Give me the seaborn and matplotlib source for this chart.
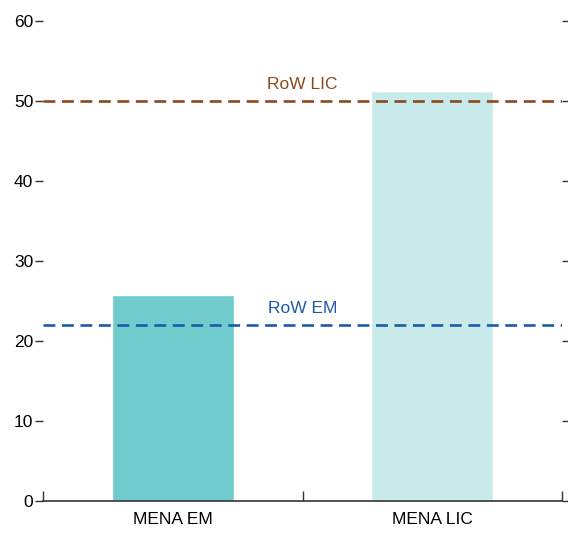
import matplotlib
matplotlib.use("Agg")
import matplotlib.pyplot as plt
import seaborn as sns
import pandas as pd
from matplotlib import font_manager

categories = ["MENA EM", "MENA LIC"]
values = [25.8, 51.3]
bar_colors = ["#70CBCC", "#C8EAEB"]
ref_labels = ["RoW LIC", "RoW EM"]
ref_values = [50.0, 22.0]
ref_colors = ["#8B4A1E", "#1F5AAA"]
yticks = [0, 10, 20, 30, 40, 50, 60]

sns.set_style("white")
names = {f.name for f in font_manager.fontManager.ttflist}
fam = "Liberation Sans Narrow" if "Liberation Sans Narrow" in names else "Liberation Sans"
plt.rcParams["font.family"] = [fam, "DejaVu Sans"]

df = pd.DataFrame({"cat": categories, "val": values})
fig = plt.figure(figsize=(5.68, 5.35), dpi=100)
ax = fig.add_axes([43/568, 34/535, (562-43)/568, (501-21)/535])
sns.barplot(data=df, x="cat", y="val", hue="cat", palette=bar_colors,
            width=0.47, legend=False, ax=ax, saturation=1)

for lab, v, c in zip(ref_labels, ref_values, ref_colors):
    ax.axhline(v, color=c, lw=1.9, ls=(0, (4.5, 2.5)), zorder=3)
    ax.text(0.5, v + 1.1, lab, color=c, ha="center", va="bottom", fontsize=12.5)

ax.set_xlim(-0.5, 1.5)
ax.set_ylim(0, 60)
ax.set_yticks(yticks)
ax.set_xlabel("")
ax.set_ylabel("")
for s in ["top", "left", "right"]:
    ax.spines[s].set_visible(False)
ax.spines["bottom"].set_color("#333333")
ax.spines["bottom"].set_linewidth(1.2)
ax.tick_params(axis="y", which="major", left=True, right=True, direction="out",
               length=6, width=1, color="#333333", labelsize=12.5, pad=1,
               labelcolor="black")
ax.tick_params(axis="x", which="major", length=0, labelsize=12.5, pad=8,
               labelcolor="black")
ax.set_xticks([-0.5, 0.5, 1.5], minor=True)
ax.tick_params(axis="x", which="minor", direction="in", length=7, width=1,
               color="#333333", bottom=True)
fig.savefig("out.png", dpi=100)
